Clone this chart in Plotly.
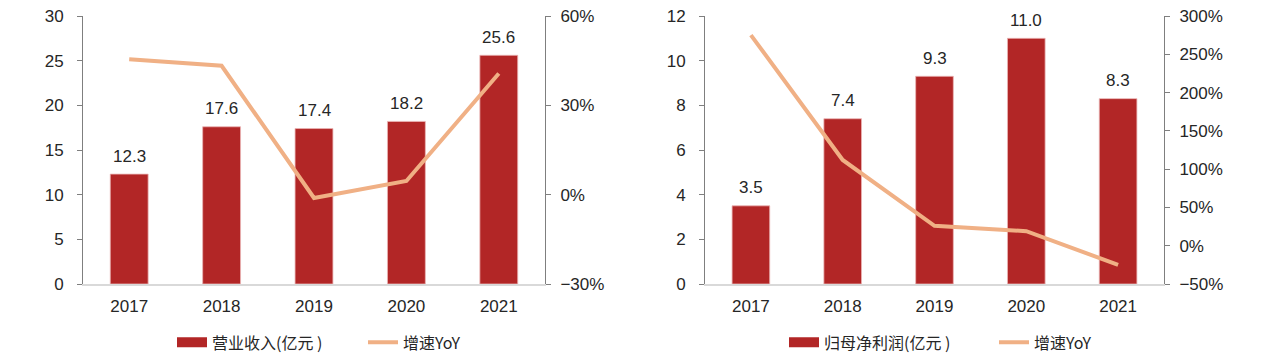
import plotly.graph_objects as go

years = ["2017", "2018", "2019", "2020", "2021"]
revenue = [12.3, 17.6, 17.4, 18.2, 25.6]
revenue_yoy = [45.5, 43.3, -1.1, 4.6, 40.7]
profit = [3.5, 7.4, 9.3, 11.0, 8.3]
profit_yoy = [275, 112, 26, 19, -25]

BAR = "#B22626"
LINE = "#F0B085"
AXIS = "#7F7F7F"
TXT = "#262626"
FONT = "Liberation Sans, Arial, Noto Sans CJK SC, sans-serif"
CJK = "Noto Sans CJK SC, Liberation Sans, sans-serif"

fig = go.Figure()


def add_panel(xa, ya_bar, ya_line, bar_vals, yoy_vals, bar_name, leg):
    fig.add_trace(go.Bar(
        x=years, y=bar_vals, name=bar_name, marker=dict(color=BAR, line=dict(color="#EBB5B5", width=0.8)),
        width=0.41, xaxis=xa, yaxis=ya_bar, showlegend=False, legendgroup=leg + "b"))
    # legend-only entry drawn as a wide red swatch like the reference
    fig.add_trace(go.Scatter(
        x=[None], y=[None], name=bar_name, mode="lines", line=dict(color=BAR, width=10),
        xaxis=xa, yaxis=ya_bar, legend=leg, legendgroup=leg + "b", hoverinfo="skip"))
    fig.add_trace(go.Scatter(
        x=years, y=yoy_vals, name="增速YoY", mode="lines", line=dict(color=LINE, width=4),
        xaxis=xa, yaxis=ya_line, legend=leg))


add_panel("x", "y", "y2", revenue, revenue_yoy, "营业收入(亿元 )", "legend")
add_panel("x2", "y3", "y4", profit, profit_yoy, "归母净利润(亿元 )", "legend2")

annotations = []
for xr, yr, vals in (("x", "y", revenue), ("x2", "y3", profit)):
    for i, v in enumerate(vals):
        annotations.append(dict(x=i, y=v, xref=xr, yref=yr, text=f"{v:.1f}", showarrow=False,
                                yanchor="middle", yshift=18, font=dict(size=17, color=TXT, family=FONT)))

W, H = 1268, 356
xd1 = [83 / W, 545 / W]
xd2 = [705 / W, 1164 / W]

tickfont = dict(size=17, color=TXT, family=FONT)
yax = dict(showgrid=False, zeroline=False, showline=True, linecolor=AXIS, linewidth=1,
           ticks="outside", ticklen=5, tickcolor=AXIS, tickfont=tickfont)
xax = dict(showgrid=False, zeroline=False, showline=True, linecolor="#D9D9D9", linewidth=1.5,
           ticks="", tickfont=tickfont, type="category", range=[-0.5, 4.5], ticklabelstandoff=6)

fig.update_layout(
    width=W, height=H,
    margin=dict(l=0, r=0, t=16, b=72, autoexpand=False),
    paper_bgcolor="white", plot_bgcolor="white",
    font=dict(family=FONT, color=TXT),
    annotations=annotations,
    xaxis=dict(domain=xd1, anchor="y", **xax),
    xaxis2=dict(domain=xd2, anchor="y3", **xax),
    yaxis=dict(range=[0, 30], dtick=5, anchor="x", ticklabelstandoff=10, **yax),
    yaxis2=dict(range=[-30, 60], dtick=30, ticksuffix="%", overlaying="y", side="right", anchor="x",
                ticklabelstandoff=6, **yax),
    yaxis3=dict(range=[0, 12], dtick=2, anchor="x2", ticklabelstandoff=10, **yax),
    yaxis4=dict(range=[-50, 300], dtick=50, ticksuffix="%", overlaying="y3", side="right", anchor="x2",
                ticklabelstandoff=6, **yax),
    legend=dict(orientation="h", x=172 / W, xanchor="left", y=-0.218, yanchor="middle", yref="paper",
                font=dict(size=16, family=CJK, color=TXT), bgcolor="rgba(0,0,0,0)", entrywidth=146),
    legend2=dict(orientation="h", x=784 / W, xanchor="left", y=-0.218, yanchor="middle", yref="paper",
                 font=dict(size=16, family=CJK, color=TXT), bgcolor="rgba(0,0,0,0)", entrywidth=165),
    showlegend=True,
)

fig.write_html("out.html", config={"displayModeBar": False},
               post_script="document.body.style.margin='0';document.body.style.padding='0';")
